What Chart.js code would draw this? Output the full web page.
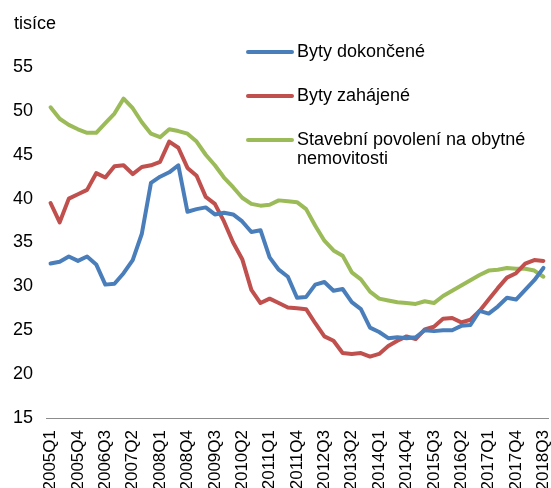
<!DOCTYPE html>
<html>
<head>
<meta charset="utf-8">
<script src="https://cdn.jsdelivr.net/npm/chart.js@4"></script>
<style>
  html, body { margin: 0; padding: 0; background: #fff; }
  #wrap { width: 551px; height: 488px; }
</style>
</head>
<body>
<div id="wrap"><canvas id="graf"></canvas></div>
<script>
// ctvrtleti 2005Q1 .. 2018Q3
var ctvrtleti = [];
for (var r = 2005; r <= 2018; r++) {
  for (var q = 1; q <= 4; q++) {
    if (r === 2018 && q > 3) break;
    ctvrtleti.push(r + "Q" + q);
  }
}

var dokoncene = [32.6, 32.8, 33.4, 32.9, 33.4, 32.5, 30.2, 30.3, 31.5, 33.0, 36.0, 41.8, 42.5, 43.0, 43.8,
  38.5, 38.8, 39.0, 38.2, 38.4, 38.2, 37.4, 36.2, 36.4, 33.3, 31.9, 31.1, 28.7, 28.8, 30.2, 30.5,
  29.5, 29.7, 28.2, 27.4, 25.3, 24.8, 24.1, 24.2, 24.1, 24.2, 25.0, 24.9, 25.0, 25.0, 25.5, 25.6,
  27.2, 26.9, 27.7, 28.7, 28.5, 29.6, 30.7, 32.1];

var zahajene = [39.5, 37.3, 40.0, 40.5, 41.0, 42.9, 42.4, 43.7, 43.8, 42.8, 43.6, 43.8, 44.2, 46.5, 45.8,
  43.5, 42.6, 40.2, 39.4, 37.4, 35.0, 33.1, 29.6, 28.1, 28.6, 28.1, 27.6, 27.5, 27.4, 25.8, 24.3,
  23.8, 22.4, 22.3, 22.4, 22.0, 22.3, 23.2, 23.8, 24.3, 24.0, 25.1, 25.4, 26.3, 26.4, 25.9, 26.2,
  27.2, 28.5, 29.8, 31.0, 31.5, 32.6, 33.0, 32.9];

var povoleni = [50.4, 49.1, 48.4, 47.9, 47.5, 47.5, 48.6, 49.7, 51.4, 50.3, 48.7, 47.4, 47.0, 47.9, 47.7,
  47.4, 46.5, 45.0, 43.8, 42.4, 41.3, 40.1, 39.4, 39.2, 39.3, 39.8, 39.7, 39.6, 38.8, 36.9, 35.2,
  34.1, 33.5, 31.6, 30.8, 29.4, 28.6, 28.4, 28.2, 28.1, 28.0, 28.3, 28.1, 28.9, 29.5, 30.1, 30.7,
  31.3, 31.8, 31.9, 32.1, 32.0, 32.0, 31.8, 31.1];

var nazvy = ["Byty dokončené", "Byty zahájené", "Stavební povolení na obytné\nnemovitosti"];
var barvy = ["#4A7EBB", "#C0504D", "#9BBB59"];

var pismo = '"Liberation Sans", Arial, sans-serif';

// legenda uvnitr grafu + popisek "tisíce"
var popisky = {
  id: "popisky",
  afterDraw: function (chart) {
    var c = chart.ctx;
    c.save();
    c.fillStyle = "#000";
    c.font = "18px " + pismo;
    c.textBaseline = "middle";
    c.textAlign = "left";
    c.fillText("tisíce", 14, 24);

    var radky = [52, 96, 140];
    for (var i = 0; i < nazvy.length; i++) {
      var y = radky[i];
      c.strokeStyle = barvy[i];
      c.lineWidth = 4;
      c.lineCap = "round";
      c.beginPath();
      c.moveTo(248, y);
      c.lineTo(292, y);
      c.stroke();
      var casti = nazvy[i].split("\n");
      for (var j = 0; j < casti.length; j++) {
        c.fillText(casti[j], 297, y + j * 19);
      }
    }
    c.restore();
  }
};

var ctx = document.getElementById("graf");
var graf = new Chart(ctx, {
  type: "line",
  data: {
    labels: ctvrtleti,
    datasets: [
      { label: nazvy[0], data: dokoncene, borderColor: barvy[0] },
      { label: nazvy[1], data: zahajene, borderColor: barvy[1] },
      { label: nazvy[2], data: povoleni, borderColor: barvy[2] }
    ]
  },
  options: {
    responsive: true,
    maintainAspectRatio: false,
    animation: false,
    layout: { padding: { top: 67, right: 3, left: 0, bottom: 0 } },
    elements: {
      line: { borderWidth: 4, tension: 0, borderCapStyle: "round", borderJoinStyle: "round" },
      point: { radius: 0 }
    },
    plugins: {
      legend: { display: false },
      tooltip: { enabled: false }
    },
    scales: {
      x: {
        offset: true,
        grid: { display: false, drawTicks: false },
        border: { display: true, color: "#8c8c8c", width: 1 },
        afterFit: function (s) { s.height = 70; s.paddingLeft = 0; s.paddingRight = 0; },
        ticks: {
          autoSkip: false,
          maxRotation: 90,
          minRotation: 90,
          padding: 12,
          color: "#000",
          font: { family: pismo, size: 17 },
          callback: function (v, i) { return i % 3 === 0 ? ctvrtleti[i] : null; }
        }
      },
      y: {
        min: 15,
        max: 55,
        grid: { display: false, drawTicks: false },
        border: { display: false },
        afterFit: function (s) { s.width = 46; },
        ticks: {
          stepSize: 5,
          padding: 13,
          color: "#000",
          font: { family: pismo, size: 18 }
        }
      }
    }
  },
  plugins: [popisky]
});
</script>
</body>
</html>
